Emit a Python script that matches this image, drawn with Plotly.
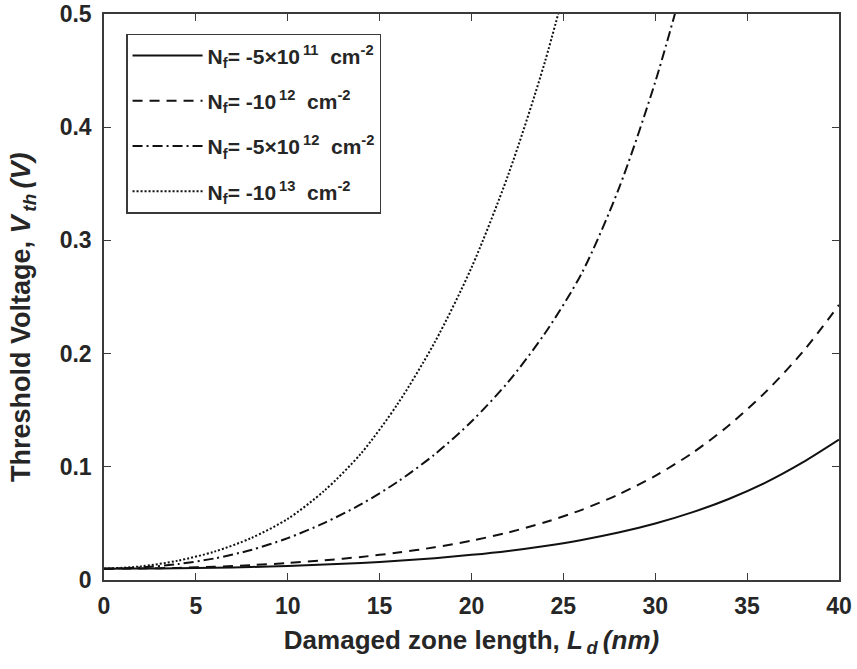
import plotly.graph_objects as go

# Damaged zone length (nm)
ld_nm = [0, 2, 4, 6, 8, 10, 12, 14, 16, 18, 20, 22, 24, 26, 28, 30, 32, 34, 36, 38, 40]

# Threshold voltage (V) for each fixed-charge density
vth_5e11 = [0.0100, 0.0101, 0.0104, 0.0108, 0.0115, 0.0124, 0.0136, 0.0151, 0.0169, 0.0193,
            0.0222, 0.0257, 0.0301, 0.0354, 0.0419, 0.0499, 0.0597, 0.0716, 0.0860, 0.1036, 0.1240]
vth_1e12 = [0.0100, 0.0102, 0.0107, 0.0117, 0.0131, 0.0150, 0.0174, 0.0204, 0.0242, 0.0289,
            0.0347, 0.0420, 0.0510, 0.0620, 0.0755, 0.0920, 0.1120, 0.1365, 0.1660, 0.2010, 0.2430]
vth_5e12 = [0.0100, 0.0110, 0.0140, 0.0190, 0.0265, 0.0370, 0.0505, 0.0670, 0.0870, 0.1110,
            0.1400, 0.1750, 0.2180, 0.2710, 0.3450, 0.4400, 0.5550]
vth_1e13 = [0.0100, 0.0120, 0.0170, 0.0250, 0.0370, 0.0540, 0.0790, 0.1120, 0.1560, 0.2100,
            0.2760, 0.3580, 0.4580, 0.5800]

SP = "\u2009"
NB = "\u00a0"
labels = [
    f"N<sub>f</sub>= -5×10<sup>{SP}11</sup>{NB}{NB}cm<sup>-2</sup>",
    f"N<sub>f</sub>= -10<sup>{SP}12</sup>{NB}{NB}cm<sup>-2</sup>",
    f"N<sub>f</sub>= -5×10<sup>{SP}12</sup>{NB}{NB}cm<sup>-2</sup>",
    f"N<sub>f</sub>= -10<sup>{SP}13</sup>{NB}{NB}cm<sup>-2</sup>",
]
series = [vth_5e11, vth_1e12, vth_5e12, vth_1e13]
dashes = ["solid", "10px,7px", "10px,4px,2px,4px", "2px,2px"]

INK = "#262626"
FONT = "Liberation Sans"

fig = go.Figure()
for i, (name, ys, dash) in enumerate(zip(labels, series, dashes)):
    fig.add_trace(go.Scatter(
        x=ld_nm[:len(ys)], y=ys, mode="lines", name=name,
        line=dict(color="#111111", width=2, dash=dash, shape="spline", smoothing=0.8),
        legendgroup=f"g{i}",
    ))

axis_common = dict(
    showline=True, linecolor="#3a3a3a", linewidth=1.5, mirror="ticks",
    ticks="inside", ticklen=7, tickwidth=1.3, tickcolor="#3a3a3a",
    showgrid=False, zeroline=False, automargin=False,
    tickfont=dict(family=FONT, size=23, color=INK, weight="bold"),
)

fig.update_xaxes(
    range=[0, 40], tickvals=[0, 5, 10, 15, 20, 25, 30, 35, 40],
    ticklabelstandoff=5,
    title=dict(text=f"Damaged zone length, <i>L<sub>{SP}d</sub>{SP}(nm)</i>",
               font=dict(family=FONT, size=26, color=INK, weight="bold"), standoff=12),
    **axis_common,
)
fig.update_yaxes(
    range=[0, 0.5], tickvals=[0, 0.1, 0.2, 0.3, 0.4, 0.5],
    ticklabelstandoff=6,
    **axis_common,
)

# y-axis title placed as a rotated annotation
fig.add_annotation(
    text=f"Threshold Voltage, <i>V<sub>{SP}th</sub>{SP}(V)</i>",
    xref="paper", yref="paper", x=-0.11, y=0.465,
    xanchor="center", yanchor="middle", textangle=-90, showarrow=False,
    font=dict(family=FONT, size=27, color=INK, weight="bold"),
)

fig.update_layout(
    width=857, height=669,
    margin=dict(l=104, r=18, t=14, b=89),
    plot_bgcolor="white", paper_bgcolor="white",
    font=dict(family=FONT, color=INK, weight="bold"),
    legend=dict(
        x=0.03, y=0.965, xanchor="left", yanchor="top",
        bgcolor="white", bordercolor="#3a3a3a", borderwidth=1.5,
        font=dict(family=FONT, size=21, color=INK, weight="bold"),
        tracegroupgap=15, itemwidth=70,
    ),
)

fig.write_html("out.html")
